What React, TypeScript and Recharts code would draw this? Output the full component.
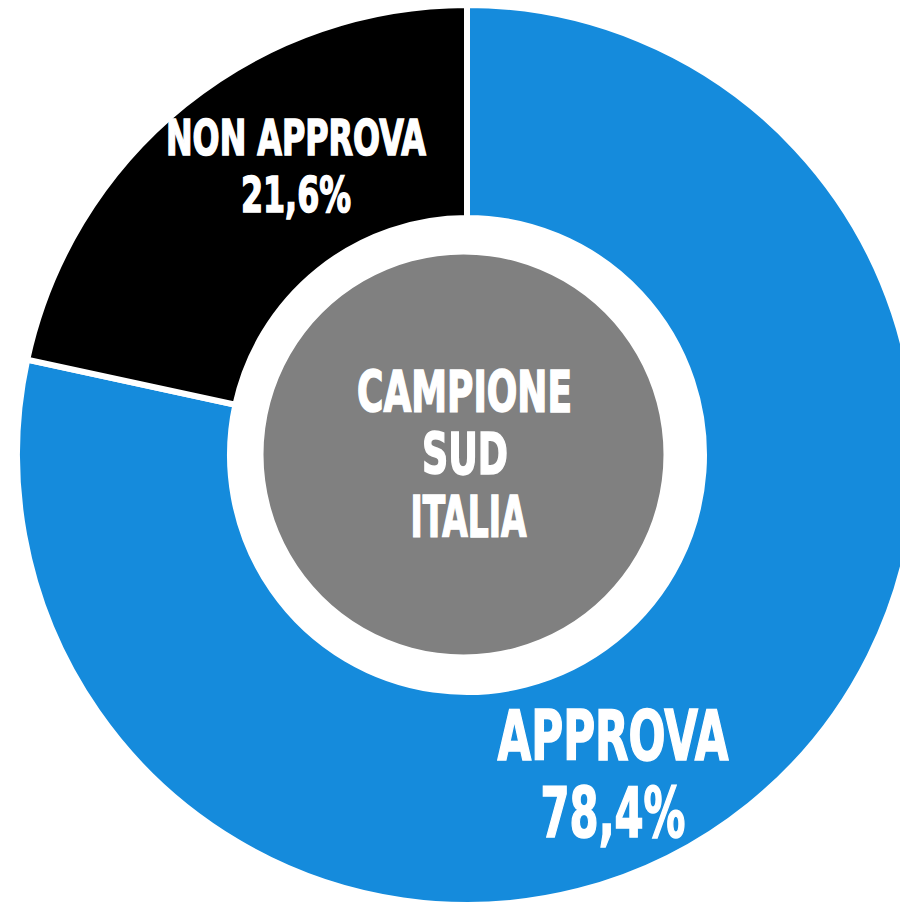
import { PieChart, Pie, Cell } from 'recharts';

const categories = ['APPROVA', 'NON APPROVA'];
const percentages = [78.4, 21.6];
const percentLabels = ['78,4%', '21,6%'];
const centerLines = ['CAMPIONE', 'SUD', 'ITALIA'];

const sliceColors = ['#158BDC', '#000000'];
const FONT = '"Liberation Sans Narrow", "DejaVu Sans Condensed", "Roboto", sans-serif';

// label layout relative to the donut centre: [dx, dy of name baseline, name width, pct width, font size, line gap]
const labelLayout: Record<string, { dx: number; dy: number; w1: number; w2: number; size: number; gap: number }> = {
    'APPROVA': { dx: 146, dy: 305, w1: 231, w2: 145, size: 69, gap: 77 },
    'NON APPROVA': { dx: -171, dy: -300, w1: 260, w2: 110, size: 50, gap: 57 },
};

const data = categories.map((name, i) => ({ name, value: percentages[i], pct: percentLabels[i] }));

function SliceLabel(props: any) {
    const { cx, cy, payload } = props;
    const l = labelLayout[payload.name];
    if (!l) return null;
    return (
        <g>
            <text x={cx + l.dx} y={cy + l.dy} textAnchor="middle" fill="#fff" stroke="#fff" strokeWidth={1.6}
                fontFamily={FONT} fontWeight="bold" fontSize={l.size} textLength={l.w1} lengthAdjust="spacingAndGlyphs">
                {payload.name}
            </text>
            <text x={cx + l.dx} y={cy + l.dy + l.gap} textAnchor="middle" fill="#fff" stroke="#fff" strokeWidth={1.6}
                fontFamily={FONT} fontWeight="bold" fontSize={l.size} textLength={l.w2} lengthAdjust="spacingAndGlyphs">
                {payload.pct}
            </text>
        </g>
    );
}

const centerWidths = [215, 86, 116];
const centerDx = [1, 1.5, 5];

function CenterLabel(props: any) {
    const { cx, cy } = props;
    return (
        <g>
            {centerLines.map((t, i) => (
                <text key={t} x={cx + centerDx[i]} y={cy - 43 + i * 62.5} textAnchor="middle" fill="#fff"
                    stroke="#fff" strokeWidth={1.6} fontFamily={FONT} fontWeight="bold" fontSize={57}
                    textLength={centerWidths[i]} lengthAdjust="spacingAndGlyphs">
                    {t}
                </text>
            ))}
        </g>
    );
}

export default function App() {
    return (
        <div style={{ position: 'absolute', left: 0, top: 0, width: 900, height: 903, background: '#fff' }}>
            <PieChart width={900} height={903} margin={{ top: 0, right: 0, bottom: 0, left: 0 }}>
                <Pie
                    data={data}
                    dataKey="value"
                    nameKey="name"
                    cx={467}
                    cy={455}
                    innerRadius={237}
                    outerRadius={450}
                    startAngle={90}
                    endAngle={-270}
                    stroke="#fff"
                    strokeWidth={6}
                    label={SliceLabel}
                    labelLine={false}
                    isAnimationActive={false}
                >
                    {data.map((d, i) => (
                        <Cell key={d.name} fill={sliceColors[i]} />
                    ))}
                </Pie>
                <Pie
                    data={[{ name: 'centro', value: 1 }]}
                    dataKey="value"
                    cx={463.5}
                    cy={454.5}
                    innerRadius={0}
                    outerRadius={200}
                    startAngle={90}
                    endAngle={-270}
                    fill="#808080"
                    stroke="none"
                    label={CenterLabel}
                    labelLine={false}
                    isAnimationActive={false}
                />
            </PieChart>
        </div>
    );
}
